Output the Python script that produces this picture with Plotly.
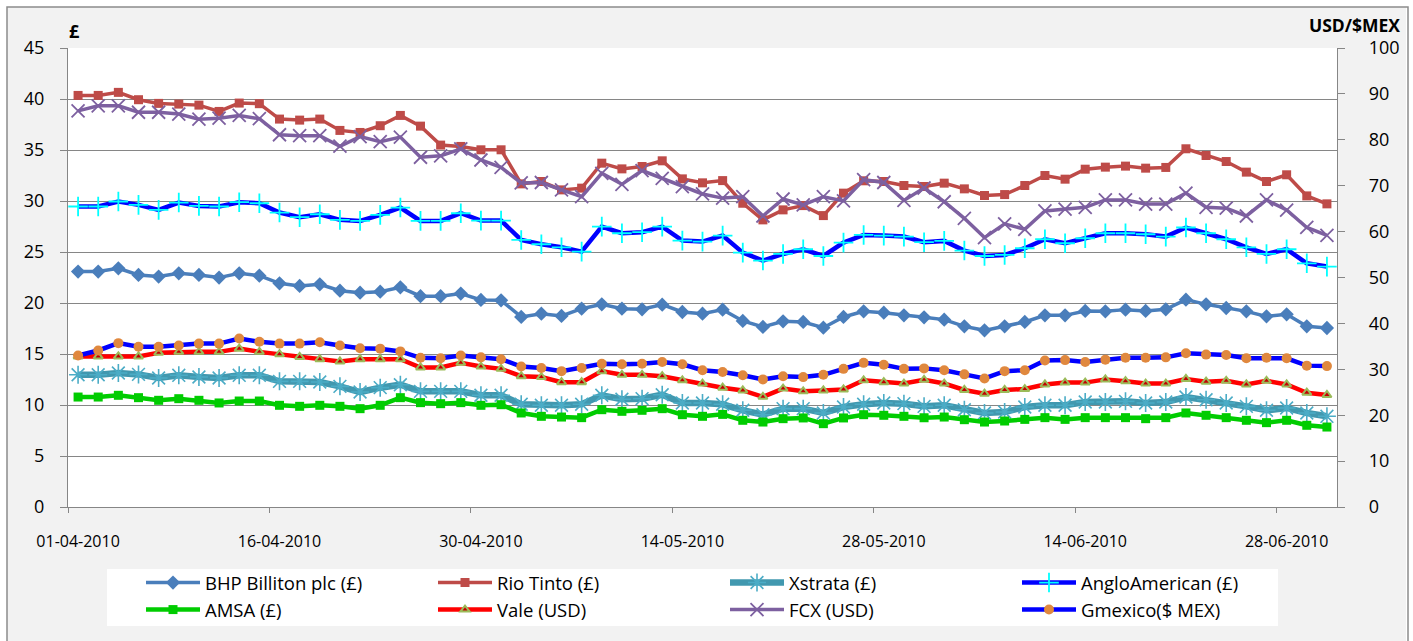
import plotly.graph_objects as go

# ---------------- data ----------------
dates = [
    "01-04-2010", "05-04-2010", "06-04-2010", "07-04-2010", "08-04-2010", "09-04-2010",
    "12-04-2010", "13-04-2010", "14-04-2010", "15-04-2010", "16-04-2010",
    "19-04-2010", "20-04-2010", "21-04-2010", "22-04-2010", "23-04-2010",
    "26-04-2010", "27-04-2010", "28-04-2010", "29-04-2010", "30-04-2010",
    "03-05-2010", "04-05-2010", "05-05-2010", "06-05-2010", "07-05-2010",
    "10-05-2010", "11-05-2010", "12-05-2010", "13-05-2010", "14-05-2010",
    "17-05-2010", "18-05-2010", "19-05-2010", "20-05-2010", "21-05-2010",
    "24-05-2010", "25-05-2010", "26-05-2010", "27-05-2010", "28-05-2010",
    "01-06-2010", "02-06-2010", "03-06-2010", "04-06-2010",
    "07-06-2010", "08-06-2010", "09-06-2010", "10-06-2010", "11-06-2010",
    "14-06-2010", "15-06-2010", "16-06-2010", "17-06-2010", "18-06-2010",
    "21-06-2010", "22-06-2010", "23-06-2010", "24-06-2010", "25-06-2010",
    "28-06-2010", "29-06-2010", "30-06-2010",
]

bhp = [23.08, 23.08, 23.4, 22.75, 22.59, 22.91, 22.75, 22.49, 22.91, 22.68,
       21.93, 21.67, 21.83, 21.21, 21.01, 21.11, 21.54, 20.67, 20.67, 20.92,
       20.3, 20.26, 18.63, 18.95, 18.73, 19.44, 19.87, 19.44, 19.38, 19.84,
       19.12, 18.95, 19.35, 18.24, 17.65, 18.2, 18.14, 17.58, 18.63, 19.18,
       19.05, 18.79, 18.6, 18.37, 17.71, 17.32, 17.71, 18.14, 18.79, 18.79,
       19.22, 19.18, 19.35, 19.22, 19.38, 20.33, 19.87, 19.51, 19.18, 18.69,
       18.89, 17.71, 17.55]

rio = [40.35, 40.35, 40.65, 39.93, 39.57, 39.5, 39.4, 38.78, 39.6, 39.54,
       38.03, 37.93, 38.03, 36.92, 36.72, 37.38, 38.39, 37.34, 35.48, 35.35,
       35.02, 35.02, 31.68, 31.91, 31.09, 31.26, 33.71, 33.15, 33.38, 33.94,
       32.17, 31.78, 32.0, 29.78, 28.15, 29.13, 29.55, 28.57, 30.77, 31.98,
       31.91, 31.52, 31.42, 31.75, 31.19, 30.54, 30.63, 31.52, 32.5, 32.14,
       33.12, 33.32, 33.42, 33.22, 33.29, 35.12, 34.46, 33.87, 32.83, 31.91,
       32.57, 30.5, 29.72]

xstrata = [12.97, 12.97, 13.14, 13.0, 12.65, 12.91, 12.75, 12.65, 12.91, 12.91,
           12.32, 12.32, 12.25, 11.83, 11.27, 11.7, 11.99, 11.34, 11.34, 11.34,
           10.95, 10.95, 10.07, 9.97, 9.97, 10.07, 10.95, 10.56, 10.62, 11.01,
           10.2, 10.2, 10.07, 9.48, 9.05, 9.64, 9.64, 9.22, 9.8, 10.07,
           10.2, 10.13, 9.87, 9.97, 9.54, 9.22, 9.31, 9.8, 9.97, 9.97,
           10.29, 10.29, 10.36, 10.2, 10.29, 10.78, 10.52, 10.2, 9.87, 9.48,
           9.71, 9.22, 8.89]

anglo = [29.46, 29.46, 29.95, 29.62, 29.13, 29.85, 29.52, 29.46, 29.88, 29.78,
         28.87, 28.41, 28.7, 28.15, 28.05, 28.64, 29.36, 28.05, 28.05, 28.8,
         28.08, 28.08, 26.18, 25.76, 25.46, 25.04, 27.49, 26.84, 26.94, 27.49,
         26.12, 26.02, 26.61, 24.94, 24.16, 24.81, 25.27, 24.61, 25.92, 26.67,
         26.61, 26.51, 25.96, 26.09, 25.14, 24.61, 24.71, 25.37, 26.25, 25.86,
         26.35, 26.84, 26.84, 26.74, 26.51, 27.4, 26.84, 26.25, 25.46, 24.81,
         25.27, 23.89, 23.57]

amsa = [10.78, 10.78, 10.95, 10.72, 10.46, 10.62, 10.46, 10.2, 10.39, 10.39,
        9.97, 9.87, 9.97, 9.87, 9.64, 9.97, 10.72, 10.23, 10.13, 10.23,
        9.97, 10.03, 9.22, 8.89, 8.82, 8.76, 9.54, 9.38, 9.48, 9.64,
        9.05, 8.89, 9.08, 8.5, 8.33, 8.66, 8.73, 8.17, 8.73, 9.05,
        8.99, 8.89, 8.75, 8.82, 8.56, 8.33, 8.43, 8.59, 8.76, 8.59,
        8.76, 8.76, 8.76, 8.66, 8.76, 9.22, 8.99, 8.76, 8.5, 8.27,
        8.5, 8.01, 7.84]

vale = [32.8, 32.8, 32.8, 32.8, 33.6, 33.8, 33.8, 33.8, 34.5, 33.8,
        33.3, 32.7, 32.2, 31.7, 32.2, 32.2, 32.2, 30.4, 30.4, 31.4,
        30.6, 30.1, 28.5, 28.3, 27.2, 27.2, 29.6, 28.8, 28.8, 28.5,
        27.6, 26.9, 26.0, 25.4, 24.0, 25.8, 25.2, 25.4, 25.6, 27.6,
        27.2, 26.9, 27.7, 26.9, 25.5, 24.7, 25.5, 25.7, 26.7, 27.1,
        27.1, 27.8, 27.4, 26.9, 26.9, 27.9, 27.3, 27.5, 26.7, 27.5,
        26.7, 24.9, 24.4]

fcx = [86.3, 87.4, 87.4, 86.0, 86.0, 85.6, 84.5, 84.7, 85.3, 84.6,
       81.1, 80.9, 80.9, 78.6, 80.7, 79.6, 80.6, 76.2, 76.5, 78.0,
       75.6, 74.0, 70.6, 70.7, 69.1, 67.6, 72.7, 70.3, 73.3, 71.6,
       69.8, 68.2, 67.3, 67.6, 63.4, 67.1, 65.8, 67.6, 66.7, 71.3,
       70.7, 66.8, 69.5, 66.5, 62.9, 58.7, 61.7, 60.5, 64.5, 64.9,
       65.3, 66.9, 66.9, 66.0, 66.0, 68.4, 65.3, 65.1, 63.4, 66.9,
       64.7, 60.9, 59.2]

gmexico = [33.0, 34.1, 35.7, 34.9, 34.9, 35.2, 35.6, 35.6, 36.7, 36.0,
           35.6, 35.6, 35.9, 35.2, 34.6, 34.5, 33.9, 32.5, 32.4, 33.0,
           32.6, 32.2, 30.6, 30.3, 29.6, 30.3, 31.2, 31.1, 31.2, 31.6,
           31.1, 29.8, 29.4, 28.7, 27.8, 28.5, 28.3, 28.8, 30.1, 31.4,
           31.0, 30.1, 30.2, 29.8, 28.9, 28.0, 29.6, 29.8, 31.9, 32.0,
           31.6, 32.1, 32.5, 32.5, 32.6, 33.5, 33.2, 33.1, 32.4, 32.5,
           32.4, 30.8, 30.7]

names = ["BHP Billiton plc (£)", "Rio Tinto (£)", "Xstrata (£)", "AngloAmerican (£)",
         "AMSA (£)", "Vale (USD)", "FCX (USD)", "Gmexico($ MEX)"]

left_title = "£"
right_title = "USD/$MEX"

# ---------------- layout geometry ----------------
W, H = 1413, 641
ML, MR, MT, MB = 68, 76, 48, 134
PW, PH = W - ML - MR, H - MT - MB


def px_x(x):
    return (x - ML) / PW


def px_y(y):
    return (H - MB - y) / PH


FONT = "Open Sans, Lato, DejaVu Sans, sans-serif"
GRID = "#868686"

fig = go.Figure()


def add(y, name, line_color, lw, symbol, msize, mcolor, mline_color=None, mline_w=0, axis="y"):
    fig.add_trace(go.Scatter(
        x=dates, y=y, name=name, mode="lines+markers", yaxis=axis,
        line=dict(color=line_color, width=lw),
        marker=dict(symbol=symbol, size=msize, color=mcolor,
                    line=dict(color=mline_color or mcolor, width=mline_w)),
    ))


add(bhp, names[0], "#4A7EBB", 3.5, "diamond", 11, "#4A7EBB")
add(rio, names[1], "#BE4B48", 3.5, "square", 9, "#BE4B48")
add(xstrata, names[2], "#4198AF", 6.5, "asterisk-open", 15, "#4BACC6", "#4BACC6", 1.6)
add(anglo, names[3], "#0000FF", 4.5, "cross-thin-open", 14, "#00FFFF", "#00FFFF", 1.8)
add(amsa, names[4], "#00CC00", 4.5, "square", 9, "#00CC00")
add(vale, names[5], "#FF0000", 4.5, "triangle-up", 8, "#C00000", "#9BBB59", 2, axis="y2")
add(fcx, names[6], "#7D60A0", 3.5, "x-thin-open", 13, "#7D60A0", "#7D60A0", 1.8, axis="y2")
add(gmexico, names[7], "#0000FF", 4.5, "circle", 10, "#E0883E", axis="y2")

shapes = [
    # white outer margin around the chart frame
    dict(type="rect", xref="paper", yref="paper",
         x0=px_x(0), x1=px_x(W), y0=px_y(H + 20), y1=px_y(0),
         line=dict(color="white", width=14), fillcolor="rgba(0,0,0,0)", layer="below"),
    # chart frame
    dict(type="rect", xref="paper", yref="paper",
         x0=px_x(7), x1=px_x(1408), y0=px_y(650), y1=px_y(7),
         line=dict(color="#8C8C8C", width=1.5), fillcolor="rgba(0,0,0,0)", layer="below"),
    # legend box
    dict(type="rect", xref="paper", yref="paper",
         x0=px_x(107), x1=px_x(1278), y0=px_y(626), y1=px_y(569),
         line=dict(width=0), fillcolor="white", layer="below"),
]

fig.update_layout(
    width=W, height=H,
    margin=dict(l=ML, r=MR, t=MT, b=MB, pad=0, autoexpand=False),
    paper_bgcolor="#F2F2F2", plot_bgcolor="white",
    font=dict(family=FONT, color="#000000", size=16),
    showlegend=True,
    legend=dict(
        orientation="h", x=px_x(141), xanchor="left", y=px_y(564), yanchor="top",
        bgcolor="rgba(0,0,0,0)", borderwidth=0,
        font=dict(family=FONT, size=18.5, color="#000000"),
        itemwidth=54, entrywidthmode="pixels", entrywidth=223,
        traceorder="normal",
    ),
    xaxis=dict(
        type="category", range=[-0.5, len(dates) - 0.5], autorange=False,
        tickmode="linear", tick0=0, dtick=10, tickangle=0, automargin=False,
        tickson="boundaries", ticks="outside", ticklen=5, tickcolor=GRID, tickwidth=1.3,
        showline=True, linecolor=GRID, linewidth=1.3, showgrid=False,
        tickfont=dict(size=16), ticklabelstandoff=20,
    ),
    yaxis=dict(
        range=[0, 45], autorange=False, dtick=5, tick0=0, ticks="outside", ticklen=7,
        tickcolor=GRID, automargin=False,
        tickwidth=1.3, showline=True, linecolor=GRID, linewidth=1.3,
        showgrid=True, gridcolor=GRID, gridwidth=1.3, zeroline=False,
        tickfont=dict(size=18), ticklabelstandoff=12,
    ),
    yaxis2=dict(
        range=[0, 100], autorange=False, dtick=10, tick0=0, overlaying="y", side="right",
        ticks="outside", ticklen=7, tickcolor=GRID, tickwidth=1.3, automargin=False,
        showline=True, linecolor=GRID, linewidth=1.3, showgrid=False, zeroline=False,
        tickfont=dict(size=18), ticklabelstandoff=20,
    ),
    shapes=shapes,
    annotations=[
        dict(text="<b>" + left_title + "</b>", xref="paper", yref="paper",
             x=px_x(74), y=px_y(31), xanchor="center", yanchor="middle",
             showarrow=False, font=dict(size=18, family=FONT)),
        dict(text="<b>" + right_title + "</b>", xref="paper", yref="paper",
             x=px_x(1402), y=px_y(25), xanchor="right", yanchor="middle",
             showarrow=False, font=dict(size=17.5, family=FONT)),
    ],
)

fig.write_html("out.html", config={"displayModeBar": False},
               post_script="document.body.style.margin='0';")
